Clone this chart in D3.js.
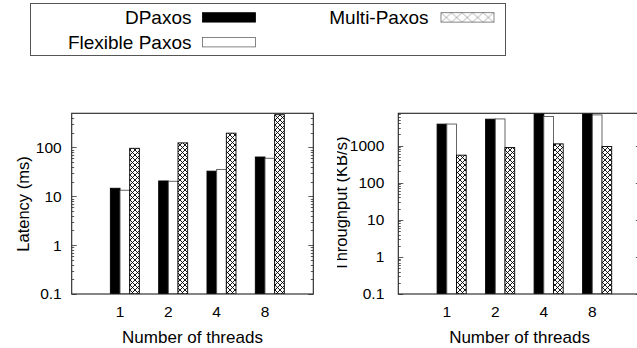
<!DOCTYPE html>
<html>
<head>
<meta charset="utf-8">
<script src="https://cdn.jsdelivr.net/npm/d3@7"></script>
<style>
  body { margin: 0; background: #fff; }
  svg { display: block; font-family: 'Liberation Sans', Arial, sans-serif; }
</style>
</head>
<body>
<div id="visualization"></div>
<script>
// values
var threads = ['1', '2', '4', '8']
var seriesNames = ['DPaxos', 'Flexible Paxos', 'Multi-Paxos']

var latencyDPaxos = [14.6, 20.6, 32.7, 63.7]
var latencyFlexible = [13.3, 20.3, 35.5, 60]
var latencyMulti = [96, 124, 196, 468]
var latencyTicks = [0.1, 1, 10, 100]

var throughputDPaxos = [3780, 5140, 8000, 8000]
var throughputFlexible = [3800, 5220, 6050, 6700]
var throughputMulti = [551, 883, 1110, 940]
var throughputTicks = [0.1, 1, 10, 100, 1000]

function drawCanvas () {
  var svg = d3.select('#visualization')
    .append('svg')
    .attr('width', 637)
    .attr('height', 348)

  var defs = svg.append('defs')
  var hatch = defs.append('pattern')
    .attr('id', 'hatch')
    .attr('patternUnits', 'userSpaceOnUse')
    .attr('width', 5)
    .attr('height', 5)
  hatch.append('rect').attr('width', 5).attr('height', 5).attr('fill', '#fff')
  hatch.append('path')
    .attr('d', 'M0,0L5,5M5,0L0,5')
    .attr('stroke', '#000')
    .attr('stroke-width', 0.9)

  var hatchKey = defs.append('pattern')
    .attr('id', 'hatchKey')
    .attr('patternUnits', 'userSpaceOnUse')
    .attr('x', 441)
    .attr('y', 12.7)
    .attr('width', 10.5)
    .attr('height', 9.6)
  hatchKey.append('rect').attr('width', 10.5).attr('height', 9.6).attr('fill', '#fff')
  hatchKey.append('path')
    .attr('d', 'M0,0L10.5,9.6M10.5,0L0,9.6')
    .attr('stroke', '#999')
    .attr('stroke-width', 0.8)

  return svg
}

function fillFor (j) {
  if (j == 0) return '#000'
  if (j == 1) return '#fff'
  return 'url(#hatch)'
}

function drawLegend (svg) {
  svg.append('rect')
    .attr('x', 30.5)
    .attr('y', 3.5)
    .attr('width', 475)
    .attr('height', 52)
    .attr('fill', 'none')
    .attr('stroke', '#555')

  var keys = [
    {name: seriesNames[0], tx: 191.5, ty: 24, sx: 202.5, sy: 12.7, fill: '#000'},
    {name: seriesNames[1], tx: 191.5, ty: 49.4, sx: 202.5, sy: 37.5, fill: '#fff'},
    {name: seriesNames[2], tx: 428.5, ty: 24, sx: 441, sy: 12.7, fill: 'url(#hatchKey)'}
  ]
  var g = svg.selectAll('.key')
    .data(keys)
    .enter()
    .append('g')
    .attr('class', 'key')
  g.append('text')
    .attr('x', function (d) { return d.tx })
    .attr('y', function (d) { return d.ty })
    .style('text-anchor', 'end')
    .style('font-size', '19px')
    .text(function (d) { return d.name })
  g.append('rect')
    .attr('x', function (d) { return d.sx })
    .attr('y', function (d) { return d.sy })
    .attr('width', 53)
    .attr('height', 9.4)
    .attr('fill', function (d) { return d.fill })
    .attr('stroke', function (d, i) { return i == 0 ? '#000' : '#666' })
    .attr('stroke-width', 0.8)
}

function drawPanel (svg, p) {
  var panel = svg.append('g')
  if (p.clipLeft) {
    svg.select('defs').append('clipPath')
      .attr('id', 'clip-' + p.id)
      .append('rect')
      .attr('x', p.clipLeft)
      .attr('y', 0)
      .attr('width', 637 - p.clipLeft)
      .attr('height', 348)
    panel.attr('clip-path', 'url(#clip-' + p.id + ')')
  }

  var x = d3.scaleLinear()
    .domain([0, 5])
    .range([p.left, p.right])
  var y = d3.scaleLog()
    .domain([0.1, p.max])
    .range([p.bottom, p.top])
  var barW = x(0.2) - x(0)

  svg.select('defs').append('clipPath')
    .attr('id', 'plot-' + p.id)
    .append('rect')
    .attr('x', p.left)
    .attr('y', p.top)
    .attr('width', p.right - p.left)
    .attr('height', p.bottom - p.top)

  var bars = panel.append('g').attr('clip-path', 'url(#plot-' + p.id + ')')
  p.series.forEach(function (values, j) {
    bars.selectAll('.bar' + j)
      .data(values)
      .enter()
      .append('rect')
      .attr('class', 'bar' + j)
      .attr('x', function (d, i) { return x(i + 1) + (j - 1) * barW })
      .attr('y', function (d) { return y(d) })
      .attr('width', barW)
      .attr('height', function (d) { return y(0.1) - y(d) })
      .attr('fill', fillFor(j))
      .attr('stroke', j == 1 ? '#555' : '#000')
      .attr('stroke-width', 0.9)
  })

  // minor and major ticks, mirrored on both sides
  var minor = []
  for (var e = -1; e < 4; e++) {
    for (var m = 2; m < 10; m++) {
      var v = m * Math.pow(10, e)
      if (v < p.max) minor.push(v)
    }
  }
  var ticks = panel.append('g')
    .attr('stroke', '#333')
    .attr('stroke-width', 0.8)
  ticks.selectAll('.minor')
    .data(minor)
    .enter()
    .append('path')
    .attr('d', function (d) {
      var yy = Math.round(y(d)) + 0.5
      return 'M' + p.left + ',' + yy + 'h2.5M' + p.right + ',' + yy + 'h-2.5'
    })
  ticks.selectAll('.major')
    .data(p.ticks)
    .enter()
    .append('path')
    .attr('d', function (d) {
      var yy = Math.round(y(d)) + 0.5
      return 'M' + p.left + ',' + yy + 'h5M' + p.right + ',' + yy + 'h-5'
    })

  panel.append('rect')
    .attr('x', p.left)
    .attr('y', p.top)
    .attr('width', p.right - p.left)
    .attr('height', p.bottom - p.top)
    .attr('fill', 'none')
    .attr('stroke', '#222')
    .attr('stroke-width', 1.1)

  panel.selectAll('.ylab')
    .data(p.ticks)
    .enter()
    .append('text')
    .attr('x', p.left - p.labelGap)
    .attr('y', function (d) { return y(d) })
    .attr('dy', '.35em')
    .style('text-anchor', 'end')
    .style('font-size', '15.5px')
    .text(function (d) { return d3.format('~g')(d) })

  panel.selectAll('.xlab')
    .data(threads)
    .enter()
    .append('text')
    .attr('x', function (d, i) { return x(i + 1) })
    .attr('y', 316.7)
    .style('text-anchor', 'middle')
    .style('font-size', '15.5px')
    .text(function (d) { return d })

  panel.append('text')
    .attr('x', (p.left + p.right) / 2)
    .attr('y', 342.5)
    .style('text-anchor', 'middle')
    .style('font-size', '17px')
    .text('Number of threads')

  panel.append('text')
    .attr('transform', 'translate(' + p.titleX + ',204) rotate(-90)')
    .style('text-anchor', 'middle')
    .style('font-size', '16.5px')
    .text(p.title)
}

var svg = drawCanvas()
drawLegend(svg)
drawPanel(svg, {
  id: 'latency',
  left: 71.7,
  right: 313.3,
  top: 113.3,
  bottom: 294,
  max: 500,
  ticks: latencyTicks,
  series: [latencyDPaxos, latencyFlexible, latencyMulti],
  labelGap: 10,
  titleX: 29,
  title: 'Latency (ms)'
})
drawPanel(svg, {
  id: 'throughput',
  left: 398.3,
  right: 640.8,
  top: 113.3,
  bottom: 294,
  max: 7400,
  ticks: throughputTicks,
  series: [throughputDPaxos, throughputFlexible, throughputMulti],
  labelGap: 14,
  titleX: 347,
  clipLeft: 337,
  title: 'Throughput (KB/s)'
})
</script>
</body>
</html>
